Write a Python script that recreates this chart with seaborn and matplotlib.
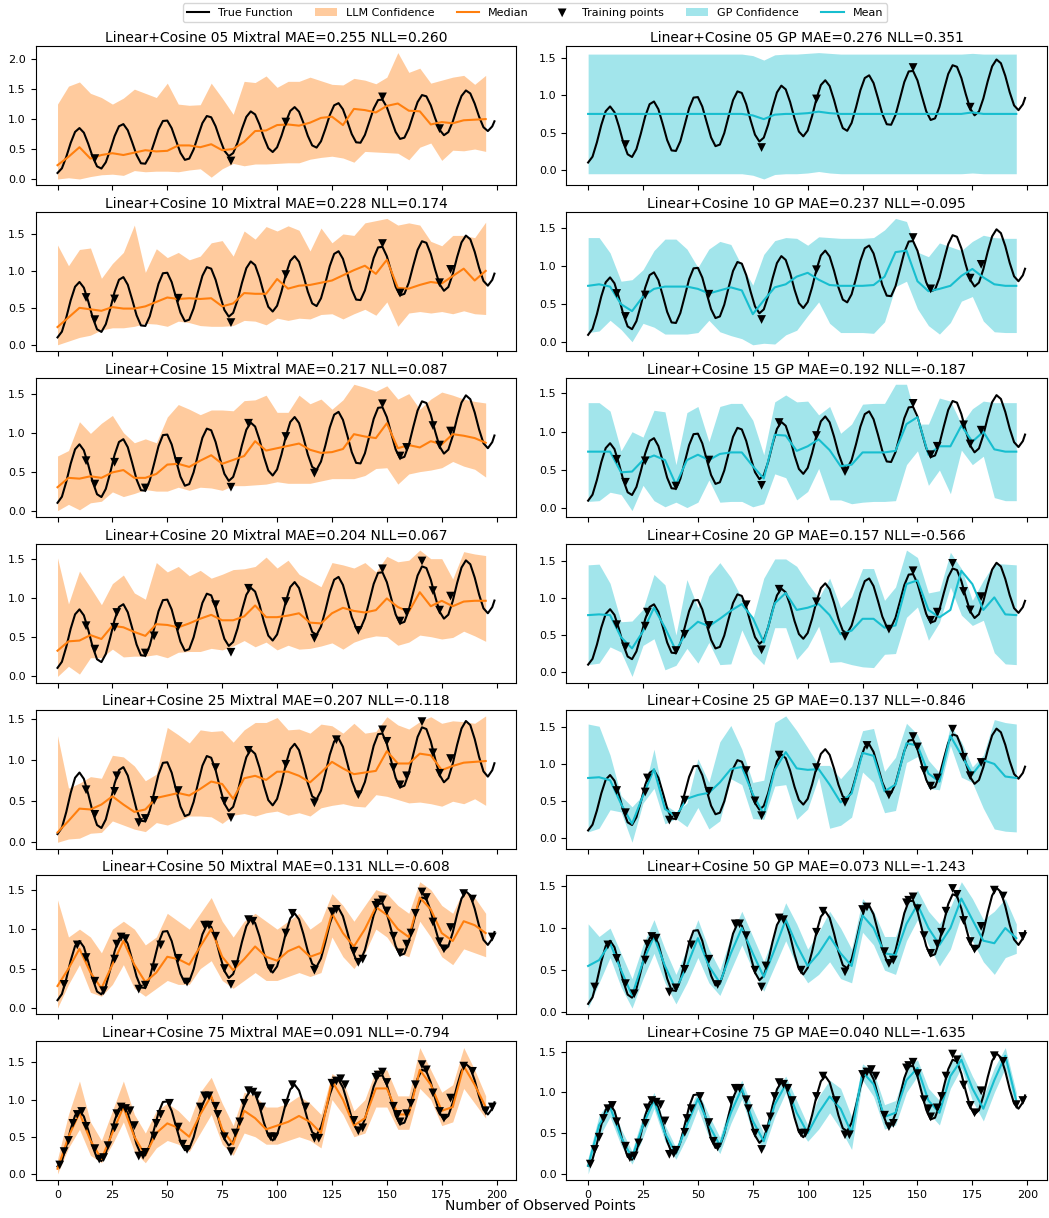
import numpy as np
import pandas as pd
import seaborn as sns
import matplotlib.pyplot as plt

# x grids
x_true = np.append(np.arange(0, 200, 2), 199)
x_pred = np.arange(0, 200, 5)

# true function (every 2 points + last one)
y_true = [0.100, 0.178, 0.370, 0.602, 0.786, 0.850, 0.773, 0.587, 0.370, 0.210,
          0.174, 0.279, 0.486, 0.716, 0.880, 0.916, 0.813, 0.613, 0.400, 0.262,
          0.255, 0.385, 0.603, 0.826, 0.968, 0.975, 0.848, 0.639, 0.435, 0.319,
          0.340, 0.493, 0.720, 0.934, 1.051, 1.030, 0.880, 0.665, 0.472, 0.381,
          0.432, 0.606, 0.837, 1.037, 1.128, 1.078, 0.909, 0.691, 0.514, 0.450,
          0.528, 0.720, 0.952, 1.136, 1.200, 1.123, 0.937, 0.720, 0.560, 0.524,
          0.629, 0.836, 1.066, 1.230, 1.266, 1.163, 0.963, 0.750, 0.612, 0.605,
          0.735, 0.953, 1.176, 1.318, 1.325, 1.198, 0.989, 0.785, 0.669, 0.690,
          0.843, 1.070, 1.284, 1.401, 1.380, 1.230, 1.015, 0.822, 0.731, 0.782,
          0.956, 1.187, 1.386, 1.478, 1.428, 1.259, 1.041, 0.864, 0.800, 0.878,
          0.963]

# training points (nested: each row adds new ones)
tx_05 = [17, 79, 104, 148, 174]
ty_05 = [0.34, 0.30, 0.95, 1.37, 0.84]
tx_10 = [13, 26, 55, 156, 179]
ty_10 = [0.64, 0.62, 0.63, 0.70, 1.02]
tx_15 = [40, 87, 117, 159, 171]
ty_15 = [0.29, 1.12, 0.48, 0.81, 1.09]
tx_20 = [27, 44, 72, 137, 166]
ty_20 = [0.81, 0.51, 0.91, 0.58, 1.47]
tx_25 = [37, 76, 127, 150, 153]
ty_25 = [0.24, 0.50, 1.25, 1.23, 0.91]
tx_50 = [3, 9, 21, 29, 31, 47, 59, 67, 69, 81, 89, 97, 107, 125, 135, 139, 145, 146, 161, 163, 168, 176, 185, 189, 198]
ty_50 = [0.30, 0.80, 0.22, 0.90, 0.88, 0.80, 0.33, 1.05, 1.05, 0.55, 1.10, 0.50, 1.20, 1.22, 0.72, 0.62, 1.30, 1.33, 0.95, 1.20, 1.40, 0.75, 1.45, 1.38, 0.90]
tx_75 = [1, 5, 7, 11, 19, 23, 33, 35, 39, 45, 51, 57, 65, 73, 83, 85, 91, 93, 99, 113, 119, 129, 131, 155, 195]
ty_75 = [0.12, 0.45, 0.68, 0.84, 0.20, 0.38, 0.85, 0.65, 0.25, 0.68, 0.95, 0.40, 0.90, 0.80, 0.70, 0.95, 1.05, 0.90, 0.50, 0.90, 0.48, 1.28, 1.20, 0.80, 0.85]

# Mixtral predictions (x = 0, 5, ..., 195)
mix_med_05 = [0.23, 0.37, 0.53, 0.34, 0.40, 0.43, 0.40, 0.44, 0.48, 0.46, 0.47, 0.56, 0.56, 0.53, 0.58, 0.48, 0.50, 0.62, 0.80, 0.81,
              0.90, 0.91, 0.89, 0.94, 1.02, 1.04, 0.90, 1.17, 1.15, 1.11, 1.22, 1.26, 1.14, 1.13, 0.91, 0.95, 0.93, 0.98, 0.99, 1.00]
mix_lo_05 = [0.00, 0.02, 0.00, 0.04, 0.07, 0.08, 0.06, 0.14, 0.12, 0.13, 0.13, 0.12, 0.15, 0.17, 0.03, 0.17, 0.26, 0.22, 0.25, 0.25,
             0.26, 0.27, 0.27, 0.33, 0.36, 0.38, 0.35, 0.28, 0.46, 0.45, 0.44, 0.43, 0.32, 0.53, 0.60, 0.31, 0.48, 0.47, 0.50, 0.46]
mix_hi_05 = [1.25, 1.55, 1.62, 1.43, 1.36, 1.25, 1.35, 1.50, 1.43, 1.36, 1.60, 1.25, 1.23, 1.24, 1.60, 1.35, 1.08, 1.63, 1.61, 1.72,
             1.53, 1.63, 1.63, 1.70, 1.64, 1.58, 1.57, 1.68, 1.65, 1.59, 1.70, 2.11, 1.78, 1.85, 1.60, 1.65, 1.70, 1.73, 1.58, 1.73]

mix_med_10 = [0.24, 0.37, 0.50, 0.48, 0.46, 0.51, 0.49, 0.49, 0.52, 0.58, 0.64, 0.62, 0.63, 0.62, 0.63, 0.52, 0.56, 0.70, 0.69, 0.69,
              0.89, 0.76, 0.80, 0.81, 0.84, 0.87, 0.94, 1.01, 1.07, 0.96, 1.15, 0.77, 0.76, 0.81, 0.85, 0.83, 0.93, 1.03, 0.87, 1.00]
mix_lo_10 = [0.00, 0.05, 0.10, 0.13, 0.20, 0.23, 0.23, 0.25, 0.29, 0.28, 0.25, 0.32, 0.30, 0.26, 0.25, 0.25, 0.26, 0.33, 0.32, 0.27,
             0.36, 0.33, 0.36, 0.35, 0.41, 0.42, 0.35, 0.42, 0.48, 0.40, 0.58, 0.25, 0.43, 0.45, 0.43, 0.45, 0.42, 0.46, 0.42, 0.41]
mix_hi_10 = [1.35, 1.07, 1.29, 1.31, 0.90, 1.10, 1.25, 1.62, 0.98, 1.30, 1.18, 1.25, 1.15, 1.20, 1.38, 1.41, 1.20, 1.54, 1.43, 1.60,
             1.54, 1.61, 1.55, 1.27, 1.58, 1.38, 1.50, 1.48, 1.65, 1.68, 1.71, 1.62, 1.65, 1.62, 1.40, 1.34, 1.48, 1.48, 1.45, 1.66]

mix_med_15 = [0.30, 0.42, 0.41, 0.44, 0.42, 0.49, 0.52, 0.42, 0.42, 0.47, 0.59, 0.60, 0.56, 0.64, 0.71, 0.60, 0.65, 0.70, 0.89, 0.77,
              0.80, 0.83, 0.86, 0.78, 0.74, 0.75, 0.79, 0.98, 0.95, 0.93, 1.12, 0.80, 0.84, 0.81, 0.89, 0.85, 0.98, 0.96, 0.93, 0.87]
mix_lo_15 = [0.00, 0.08, 0.01, 0.10, 0.12, 0.24, 0.18, 0.22, 0.27, 0.25, 0.25, 0.30, 0.26, 0.30, 0.29, 0.26, 0.32, 0.32, 0.33, 0.34,
             0.37, 0.35, 0.35, 0.35, 0.38, 0.41, 0.41, 0.41, 0.45, 0.54, 0.55, 0.34, 0.47, 0.50, 0.52, 0.55, 0.63, 0.57, 0.53, 0.43]
mix_hi_15 = [0.70, 0.77, 1.14, 0.99, 1.12, 1.22, 1.00, 0.87, 0.92, 0.87, 1.20, 1.36, 1.30, 1.23, 1.29, 1.29, 1.28, 1.41, 1.42, 1.48,
             1.26, 1.26, 1.48, 1.37, 1.43, 1.30, 1.42, 1.62, 1.58, 1.53, 1.60, 1.43, 1.50, 1.30, 1.43, 1.52, 1.48, 1.43, 1.40, 1.38]

mix_med_20 = [0.32, 0.44, 0.45, 0.52, 0.47, 0.64, 0.62, 0.56, 0.51, 0.66, 0.65, 0.62, 0.67, 0.73, 0.78, 0.71, 0.71, 0.76, 0.90, 0.75,
              0.75, 0.77, 0.80, 0.68, 0.67, 0.80, 0.87, 0.83, 0.81, 0.84, 0.99, 0.88, 0.82, 1.07, 0.89, 0.96, 0.89, 0.95, 0.96, 0.96]
mix_lo_20 = [-0.01, 0.12, 0.02, 0.23, 0.23, 0.34, 0.24, 0.25, 0.25, 0.27, 0.23, 0.30, 0.31, 0.31, 0.35, 0.33, 0.38, 0.45, 0.37, 0.43,
             0.33, 0.39, 0.34, 0.35, 0.38, 0.42, 0.34, 0.43, 0.48, 0.51, 0.50, 0.39, 0.43, 0.52, 0.50, 0.47, 0.49, 0.57, 0.51, 0.44]
mix_hi_20 = [1.51, 0.92, 1.34, 1.13, 0.91, 1.18, 1.29, 1.06, 0.98, 1.45, 1.33, 1.40, 1.28, 1.35, 1.25, 1.30, 1.36, 1.37, 1.40, 1.52,
             1.38, 1.48, 1.30, 1.22, 1.14, 1.45, 1.42, 1.38, 1.45, 1.33, 1.53, 1.46, 1.48, 1.61, 1.50, 1.50, 1.24, 1.59, 1.56, 1.54]

mix_med_25 = [0.12, 0.26, 0.41, 0.40, 0.46, 0.56, 0.46, 0.37, 0.40, 0.54, 0.57, 0.60, 0.57, 0.65, 0.74, 0.71, 0.53, 0.78, 0.81, 0.76,
              0.86, 0.86, 0.81, 0.73, 0.85, 0.98, 0.90, 0.83, 0.85, 0.87, 1.11, 0.96, 0.96, 1.08, 1.06, 0.88, 0.93, 0.97, 0.98, 0.99]
mix_lo_25 = [0.00, 0.04, 0.05, 0.11, 0.12, 0.26, 0.21, 0.16, 0.13, 0.24, 0.21, 0.26, 0.32, 0.32, 0.31, 0.23, 0.33, 0.35, 0.32, 0.36,
             0.38, 0.33, 0.36, 0.32, 0.42, 0.45, 0.47, 0.44, 0.43, 0.58, 0.56, 0.52, 0.48, 0.49, 0.47, 0.44, 0.50, 0.47, 0.53, 0.45]
mix_hi_25 = [1.30, 0.66, 0.72, 0.80, 0.78, 1.06, 1.04, 0.93, 0.75, 0.83, 1.40, 1.31, 1.21, 1.37, 1.35, 1.36, 1.22, 1.37, 1.46, 1.46,
             1.52, 1.37, 1.38, 1.33, 1.44, 1.42, 1.33, 1.45, 1.33, 1.35, 1.53, 1.43, 1.38, 1.47, 1.53, 1.45, 1.48, 1.47, 1.45, 1.54]

mix_med_50 = [0.28, 0.50, 0.75, 0.45, 0.25, 0.55, 0.85, 0.55, 0.33, 0.45, 0.65, 0.62, 0.55, 0.78, 1.00, 0.65, 0.48, 0.62, 0.78, 0.65,
              0.60, 0.72, 0.78, 0.65, 0.70, 1.20, 0.95, 0.78, 1.00, 1.28, 1.18, 1.00, 0.90, 1.40, 1.25, 0.95, 0.85, 1.10, 1.05, 0.95]
mix_lo_50 = [0.00, 0.30, 0.55, 0.20, 0.15, 0.30, 0.55, 0.25, 0.15, 0.25, 0.35, 0.30, 0.30, 0.50, 0.60, 0.35, 0.25, 0.35, 0.45, 0.35,
             0.35, 0.40, 0.45, 0.40, 0.45, 0.90, 0.65, 0.50, 0.70, 1.00, 0.90, 0.70, 0.65, 1.10, 0.90, 0.65, 0.55, 0.75, 0.70, 0.65]
mix_hi_50 = [1.37, 0.90, 1.00, 0.90, 0.70, 1.00, 1.10, 1.00, 0.80, 0.90, 1.20, 1.10, 1.00, 1.20, 1.40, 1.10, 0.90, 1.10, 1.20, 1.10,
             1.00, 1.10, 1.20, 1.00, 1.10, 1.45, 1.30, 1.10, 1.30, 1.50, 1.45, 1.30, 1.20, 1.60, 1.50, 1.30, 1.20, 1.50, 1.40, 1.20]

mix_med_75 = [0.07, 0.50, 0.82, 0.45, 0.20, 0.55, 0.90, 0.50, 0.25, 0.55, 0.68, 0.62, 0.50, 0.80, 1.05, 0.60, 0.40, 0.85, 0.75, 0.60,
              0.65, 0.70, 0.78, 0.70, 0.55, 1.25, 1.00, 0.65, 0.75, 1.15, 1.15, 0.80, 0.80, 1.40, 1.20, 0.85, 0.90, 1.45, 1.20, 0.90]
mix_lo_75 = [0.00, 0.35, 0.60, 0.25, 0.15, 0.40, 0.70, 0.30, 0.15, 0.35, 0.45, 0.40, 0.30, 0.55, 0.80, 0.40, 0.25, 0.55, 0.50, 0.40,
             0.40, 0.45, 0.50, 0.45, 0.35, 1.00, 0.80, 0.50, 0.55, 0.90, 0.90, 0.60, 0.60, 1.15, 1.00, 0.65, 0.70, 1.15, 0.95, 0.75]
mix_hi_75 = [0.20, 0.80, 1.25, 0.70, 0.45, 0.85, 1.25, 0.80, 0.55, 0.85, 0.95, 0.85, 0.70, 1.10, 1.30, 0.95, 0.65, 1.10, 1.05, 0.90,
             0.90, 0.95, 1.05, 0.95, 0.80, 1.35, 1.25, 0.85, 1.00, 1.40, 1.40, 1.05, 1.05, 1.70, 1.40, 1.10, 1.20, 1.70, 1.40, 1.05]

# GP predictions (x = 0, 5, ..., 195)
gp_mean_05 = [0.75, 0.75, 0.75, 0.75, 0.75, 0.75, 0.75, 0.75, 0.75, 0.75, 0.75, 0.75, 0.75, 0.75, 0.75, 0.73, 0.68, 0.74, 0.75, 0.75,
              0.76, 0.78, 0.76, 0.75, 0.75, 0.75, 0.75, 0.75, 0.75, 0.75, 0.75, 0.75, 0.75, 0.75, 0.75, 0.77, 0.75, 0.75, 0.75, 0.75]
gp_lo_05 = [-0.05, -0.05, -0.05, -0.05, -0.05, -0.05, -0.05, -0.05, -0.05, -0.05, -0.05, -0.05, -0.05, -0.05, -0.05, -0.07, -0.12, -0.06, -0.05, -0.05,
            -0.04, -0.02, -0.04, -0.05, -0.05, -0.05, -0.05, -0.05, -0.05, -0.05, -0.05, -0.05, -0.05, -0.05, -0.05, -0.04, -0.05, -0.05, -0.05, -0.05]
gp_hi_05 = [1.55, 1.55, 1.55, 1.55, 1.55, 1.55, 1.55, 1.55, 1.55, 1.55, 1.55, 1.55, 1.55, 1.55, 1.55, 1.53, 1.47, 1.54, 1.55, 1.55,
            1.56, 1.57, 1.56, 1.55, 1.55, 1.55, 1.55, 1.55, 1.55, 1.55, 1.55, 1.55, 1.55, 1.55, 1.55, 1.56, 1.55, 1.55, 1.55, 1.55]

gp_mean_10 = [0.74, 0.76, 0.73, 0.50, 0.41, 0.60, 0.70, 0.73, 0.73, 0.73, 0.70, 0.64, 0.68, 0.72, 0.68, 0.37, 0.55, 0.72, 0.76, 0.86,
              0.91, 0.82, 0.75, 0.74, 0.74, 0.74, 0.75, 0.86, 1.18, 1.20, 0.80, 0.67, 0.70, 0.74, 0.87, 0.96, 0.85, 0.76, 0.74, 0.74]
gp_lo_10 = [0.13, 0.15, 0.29, 0.17, 0.01, 0.25, 0.20, 0.11, 0.11, 0.11, 0.13, 0.29, 0.14, 0.09, 0.05, -0.03, -0.01, -0.02, 0.10, 0.16,
            0.35, 0.53, 0.25, 0.13, 0.13, 0.13, 0.12, 0.27, 0.73, 0.80, 0.44, 0.22, 0.11, 0.26, 0.54, 0.60, 0.28, 0.14, 0.13, 0.13]
gp_hi_10 = [1.37, 1.37, 1.17, 0.80, 0.82, 0.95, 1.20, 1.35, 1.35, 1.22, 0.98, 1.22, 1.32, 1.28, 1.00, 0.75, 1.15, 1.33, 1.37, 1.36,
            1.27, 1.38, 1.37, 1.36, 1.36, 1.36, 1.37, 1.47, 1.62, 1.58, 1.18, 1.12, 1.30, 1.25, 1.20, 1.32, 1.40, 1.37, 1.36, 1.36]

gp_mean_15 = [0.74, 0.74, 0.74, 0.47, 0.48, 0.63, 0.69, 0.63, 0.31, 0.63, 0.70, 0.63, 0.71, 0.73, 0.73, 0.55, 0.39, 0.96, 0.95, 0.75,
              0.81, 0.90, 0.76, 0.55, 0.57, 0.73, 0.73, 0.73, 0.75, 1.10, 1.19, 0.70, 0.81, 0.81, 1.08, 0.87, 1.00, 0.77, 0.74, 0.74]
gp_lo_15 = [0.09, 0.10, 0.21, 0.18, -0.03, 0.30, 0.10, 0.02, 0.08, 0.01, 0.08, 0.37, 0.08, 0.09, 0.09, 0.02, 0.06, 0.45, 0.40, 0.11,
            0.22, 0.52, 0.11, 0.11, 0.06, 0.08, 0.09, 0.09, 0.10, 0.57, 0.75, 0.30, 0.50, 0.19, 0.76, 0.57, 0.68, 0.14, 0.10, 0.10]
gp_hi_15 = [1.38, 1.38, 1.27, 0.75, 1.00, 0.93, 1.28, 1.26, 0.57, 1.25, 1.33, 0.87, 1.33, 1.37, 1.37, 1.15, 0.70, 1.39, 1.48, 1.39,
            1.40, 1.22, 1.33, 0.98, 1.10, 1.36, 1.37, 1.37, 1.62, 1.62, 1.10, 1.10, 1.44, 1.40, 1.10, 1.30, 1.40, 1.38, 1.38, 1.38]

gp_mean_20 = [0.77, 0.78, 0.77, 0.47, 0.32, 0.55, 0.87, 0.60, 0.29, 0.55, 0.68, 0.62, 0.72, 0.83, 0.92, 0.73, 0.40, 0.93, 1.07, 0.84,
              0.87, 0.92, 0.77, 0.51, 0.56, 0.72, 0.72, 0.60, 0.63, 1.19, 1.24, 0.84, 0.74, 0.84, 1.37, 1.19, 0.84, 1.01, 0.78, 0.77]
gp_lo_20 = [0.10, 0.12, 0.34, 0.27, -0.06, 0.36, 0.45, 0.03, 0.09, 0.32, 0.12, 0.40, 0.10, 0.11, 0.57, 0.25, 0.10, 0.60, 0.60, 0.17,
            0.34, 0.62, 0.13, 0.14, 0.10, 0.07, 0.06, 0.24, 0.25, 0.74, 0.88, 0.43, 0.67, 1.15, 0.77, 0.63, 0.70, 0.26, 0.11, 0.10]
gp_hi_20 = [1.45, 1.46, 1.20, 0.68, 0.69, 0.85, 1.32, 1.18, 0.50, 1.25, 0.87, 1.30, 1.48, 1.28, 1.00, 0.72, 1.27, 1.53, 1.53, 1.43,
            1.20, 1.00, 1.27, 0.87, 1.02, 1.40, 1.40, 0.97, 1.15, 1.65, 1.55, 1.07, 1.10, 1.62, 1.40, 0.97, 1.24, 1.47, 1.46, 1.45]

gp_mean_25 = [0.81, 0.82, 0.78, 0.46, 0.19, 0.57, 0.93, 0.39, 0.29, 0.53, 0.58, 0.61, 0.75, 0.93, 0.96, 0.59, 0.32, 0.92, 1.16, 0.94,
              0.92, 0.93, 0.72, 0.48, 0.60, 1.15, 1.11, 0.63, 0.72, 1.28, 1.25, 0.87, 0.76, 1.38, 1.12, 0.86, 1.05, 1.00, 0.83, 0.81]
gp_lo_25 = [0.08, 0.13, 0.38, 0.35, -0.06, 0.47, 0.67, 0.19, 0.26, 0.15, 0.41, 0.12, 0.23, 0.80, 0.72, 0.26, 0.25, 0.70, 0.72, 0.25,
            0.39, 0.82, 0.13, 0.17, 0.28, 0.89, 0.75, 0.34, 0.37, 1.02, 1.10, 0.67, 0.65, 1.25, 0.82, 0.75, 0.40, 0.12, 0.09, 0.08]
gp_hi_25 = [1.54, 1.51, 1.12, 0.57, 0.42, 0.58, 1.20, 0.45, 0.35, 0.47, 1.07, 0.75, 1.30, 1.52, 1.20, 0.75, 0.78, 1.56, 1.65, 1.45,
            1.22, 0.98, 0.98, 0.80, 0.97, 1.45, 1.48, 0.90, 1.09, 1.55, 1.40, 1.05, 0.88, 1.52, 1.30, 0.96, 1.12, 1.60, 1.56, 1.54]

gp_mean_50 = [0.55, 0.62, 0.82, 0.50, 0.20, 0.60, 0.90, 0.55, 0.27, 0.55, 0.88, 0.55, 0.35, 0.70, 1.00, 0.70, 0.42, 0.75, 1.10, 0.80,
              0.55, 0.70, 0.90, 0.70, 0.55, 1.15, 1.00, 0.70, 0.68, 1.05, 1.28, 1.00, 0.80, 1.00, 1.35, 1.10, 0.85, 0.82, 1.00, 0.88]
gp_lo_50 = [0.05, 0.35, 0.65, 0.30, 0.05, 0.40, 0.70, 0.35, 0.10, 0.35, 0.65, 0.35, 0.20, 0.50, 0.80, 0.50, 0.25, 0.55, 0.85, 0.55,
            0.35, 0.45, 0.60, 0.40, 0.35, 0.95, 0.80, 0.50, 0.45, 0.85, 1.10, 0.80, 0.55, 0.75, 1.15, 0.85, 0.60, 0.45, 0.65, 0.70]
gp_hi_50 = [1.05, 0.90, 1.00, 0.70, 0.40, 0.80, 1.10, 0.75, 0.45, 0.75, 1.10, 0.75, 0.50, 0.90, 1.20, 0.90, 0.60, 0.95, 1.30, 1.05,
            0.75, 0.95, 1.20, 1.00, 0.75, 1.35, 1.20, 0.90, 0.90, 1.25, 1.45, 1.20, 1.05, 1.25, 1.55, 1.35, 1.10, 1.20, 1.35, 1.05]

gp_mean_75 = [0.10, 0.60, 0.82, 0.45, 0.20, 0.60, 0.90, 0.50, 0.25, 0.60, 0.92, 0.60, 0.35, 0.75, 1.05, 0.65, 0.40, 0.85, 1.10, 0.75,
              0.50, 0.75, 0.95, 0.80, 0.50, 1.25, 1.10, 0.70, 0.75, 1.15, 1.30, 0.90, 0.75, 1.20, 1.40, 1.05, 0.80, 1.15, 1.45, 0.90]
gp_lo_75 = [0.00, 0.45, 0.70, 0.35, 0.12, 0.45, 0.80, 0.40, 0.18, 0.45, 0.80, 0.45, 0.25, 0.62, 0.92, 0.50, 0.30, 0.70, 1.00, 0.60,
            0.40, 0.55, 0.75, 0.55, 0.30, 1.15, 0.95, 0.55, 0.60, 1.00, 1.20, 0.75, 0.60, 1.05, 1.30, 0.90, 0.65, 1.00, 1.30, 0.80]
gp_hi_75 = [0.20, 0.72, 0.90, 0.55, 0.28, 0.72, 1.00, 0.60, 0.32, 0.72, 1.02, 0.72, 0.45, 0.88, 1.15, 0.80, 0.50, 1.00, 1.20, 0.90,
            0.60, 0.95, 1.15, 1.05, 0.70, 1.35, 1.25, 0.85, 0.90, 1.30, 1.40, 1.05, 0.90, 1.35, 1.50, 1.20, 0.95, 1.30, 1.55, 1.00]

labels = ["05", "10", "15", "20", "25", "50", "75"]
mix_mae = ["0.255", "0.228", "0.217", "0.204", "0.207", "0.131", "0.091"]
mix_nll = ["0.260", "0.174", "0.087", "0.067", "-0.118", "-0.608", "-0.794"]
gp_mae = ["0.276", "0.237", "0.192", "0.157", "0.137", "0.073", "0.040"]
gp_nll = ["0.351", "-0.095", "-0.187", "-0.566", "-0.846", "-1.243", "-1.635"]

mix_rows = [(mix_med_05, mix_lo_05, mix_hi_05), (mix_med_10, mix_lo_10, mix_hi_10),
            (mix_med_15, mix_lo_15, mix_hi_15), (mix_med_20, mix_lo_20, mix_hi_20),
            (mix_med_25, mix_lo_25, mix_hi_25), (mix_med_50, mix_lo_50, mix_hi_50),
            (mix_med_75, mix_lo_75, mix_hi_75)]
gp_rows = [(gp_mean_05, gp_lo_05, gp_hi_05), (gp_mean_10, gp_lo_10, gp_hi_10),
           (gp_mean_15, gp_lo_15, gp_hi_15), (gp_mean_20, gp_lo_20, gp_hi_20),
           (gp_mean_25, gp_lo_25, gp_hi_25), (gp_mean_50, gp_lo_50, gp_hi_50),
           (gp_mean_75, gp_lo_75, gp_hi_75)]
new_tx = [tx_05, tx_10, tx_15, tx_20, tx_25, tx_50, tx_75]
new_ty = [ty_05, ty_10, ty_15, ty_20, ty_25, ty_50, ty_75]

true_df = pd.DataFrame({"x": x_true, "y": y_true})

fig, axes = plt.subplots(7, 2, figsize=(10.49, 12.18), dpi=100, sharex=True)
fig.subplots_adjust(left=0.034, right=0.998, top=0.962, bottom=0.031, wspace=0.104, hspace=0.193)

orange = "tab:orange"
cyan = "tab:cyan"
tx_all, ty_all = [], []
for i in range(7):
    tx_all = tx_all + new_tx[i]
    ty_all = ty_all + new_ty[i]
    pts = pd.DataFrame({"x": tx_all, "y": ty_all})
    for j, (rows, col, name, lab_b, lab_l) in enumerate([
            (mix_rows, orange, "Mixtral", "LLM Confidence", "Median"),
            (gp_rows, cyan, "GP", "GP Confidence", "Mean")]):
        ax = axes[i, j]
        mid, lo, hi = rows[i]
        sns.lineplot(data=true_df, x="x", y="y", ax=ax, color="black", lw=1.5,
                     label="True Function", legend=False)
        ax.fill_between(x_pred, lo, hi, color=col, alpha=0.4, lw=0, label=lab_b)
        sns.lineplot(x=x_pred, y=mid, ax=ax, color=col, lw=1.5, label=lab_l, legend=False)
        sns.scatterplot(data=pts, x="x", y="y", ax=ax, color="black", marker="v",
                        s=40, edgecolor="none", label="Training points", legend=False, zorder=5)
        if j == 0:
            ax.set_title(f"Linear+Cosine {labels[i]} Mixtral MAE={mix_mae[i]} NLL={mix_nll[i]}", fontsize=10, pad=3)
        else:
            ax.set_title(f"Linear+Cosine {labels[i]} GP MAE={gp_mae[i]} NLL={gp_nll[i]}", fontsize=10, pad=3)
        ax.set_xlabel("")
        ax.set_ylabel("")
        ax.tick_params(labelsize=8)

axes[0, 0].set_xticks([0, 25, 50, 75, 100, 125, 150, 175, 200])

h1, l1 = axes[0, 0].get_legend_handles_labels()
h2, l2 = axes[0, 1].get_legend_handles_labels()
hd = dict(zip(l1, h1))
hd.update({k: v for k, v in zip(l2, h2) if k not in hd})
order = ["True Function", "LLM Confidence", "Median", "Training points", "GP Confidence", "Mean"]
fig.legend([hd[k] for k in order], order, loc="upper center", ncol=6, fontsize=8,
           bbox_to_anchor=(0.51, 1.0), borderaxespad=0.3)
fig.text(0.515, 0.004, "Number of Observed Points", ha="center", va="bottom", fontsize=10)

fig.savefig("out.png", dpi=100)
